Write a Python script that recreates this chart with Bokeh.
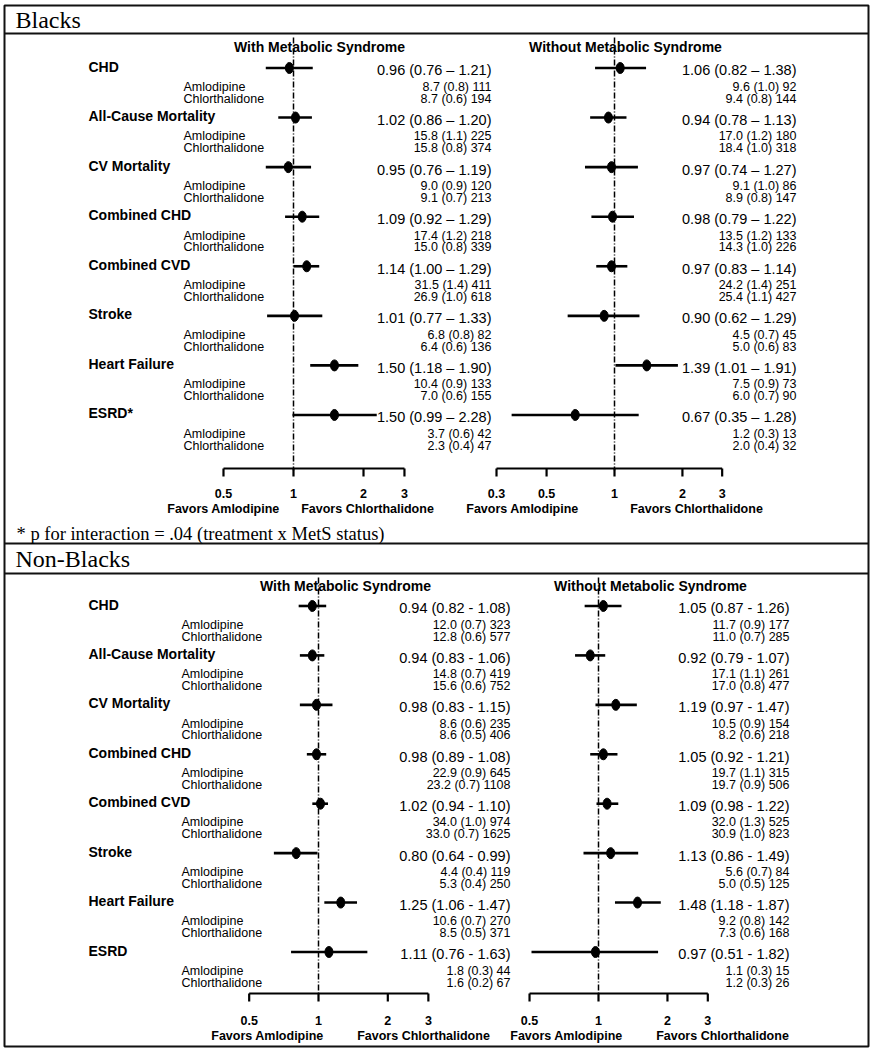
import math
from bokeh.plotting import figure
from bokeh.models import Range1d, LogScale, LinearScale, ColumnDataSource
from bokeh.core.properties import value
from bokeh.embed import file_html
from bokeh.resources import INLINE

# ---------------- data ----------------
outcomes_blacks = ["CHD", "All-Cause Mortality", "CV Mortality", "Combined CHD",
                   "Combined CVD", "Stroke", "Heart Failure", "ESRD*"]
outcomes_nonblacks = ["CHD", "All-Cause Mortality", "CV Mortality", "Combined CHD",
                      "Combined CVD", "Stroke", "Heart Failure", "ESRD"]
arms = ["Amlodipine", "Chlorthalidone"]

# Blacks, with metabolic syndrome
bw_hr = [0.96, 1.02, 0.95, 1.09, 1.14, 1.01, 1.50, 1.50]
bw_lo = [0.76, 0.86, 0.76, 0.92, 1.00, 0.77, 1.18, 0.99]
bw_hi = [1.21, 1.20, 1.19, 1.29, 1.29, 1.33, 1.90, 2.28]
bw_aml = ["8.7 (0.8) 111", "15.8 (1.1) 225", "9.0 (0.9) 120", "17.4 (1.2) 218",
          "31.5 (1.4) 411", "6.8 (0.8) 82", "10.4 (0.9) 133", "3.7 (0.6) 42"]
bw_chl = ["8.7 (0.6) 194", "15.8 (0.8) 374", "9.1 (0.7) 213", "15.0 (0.8) 339",
          "26.9 (1.0) 618", "6.4 (0.6) 136", "7.0 (0.6) 155", "2.3 (0.4) 47"]

# Blacks, without metabolic syndrome
bo_hr = [1.06, 0.94, 0.97, 0.98, 0.97, 0.90, 1.39, 0.67]
bo_lo = [0.82, 0.78, 0.74, 0.79, 0.83, 0.62, 1.01, 0.35]
bo_hi = [1.38, 1.13, 1.27, 1.22, 1.14, 1.29, 1.91, 1.28]
bo_aml = ["9.6 (1.0) 92", "17.0 (1.2) 180", "9.1 (1.0) 86", "13.5 (1.2) 133",
          "24.2 (1.4) 251", "4.5 (0.7) 45", "7.5 (0.9) 73", "1.2 (0.3) 13"]
bo_chl = ["9.4 (0.8) 144", "18.4 (1.0) 318", "8.9 (0.8) 147", "14.3 (1.0) 226",
          "25.4 (1.1) 427", "5.0 (0.6) 83", "6.0 (0.7) 90", "2.0 (0.4) 32"]

# Non-Blacks, with metabolic syndrome
nw_hr = [0.94, 0.94, 0.98, 0.98, 1.02, 0.80, 1.25, 1.11]
nw_lo = [0.82, 0.83, 0.83, 0.89, 0.94, 0.64, 1.06, 0.76]
nw_hi = [1.08, 1.06, 1.15, 1.08, 1.10, 0.99, 1.47, 1.63]
nw_aml = ["12.0 (0.7) 323", "14.8 (0.7) 419", "8.6 (0.6) 235", "22.9 (0.9) 645",
          "34.0 (1.0) 974", "4.4 (0.4) 119", "10.6 (0.7) 270", "1.8 (0.3) 44"]
nw_chl = ["12.8 (0.6) 577", "15.6 (0.6) 752", "8.6 (0.5) 406", "23.2 (0.7) 1108",
          "33.0 (0.7) 1625", "5.3 (0.4) 250", "8.5 (0.5) 371", "1.6 (0.2) 67"]

# Non-Blacks, without metabolic syndrome
no_hr = [1.05, 0.92, 1.19, 1.05, 1.09, 1.13, 1.48, 0.97]
no_lo = [0.87, 0.79, 0.97, 0.92, 0.98, 0.86, 1.18, 0.51]
no_hi = [1.26, 1.07, 1.47, 1.21, 1.22, 1.49, 1.87, 1.82]
no_aml = ["11.7 (0.9) 177", "17.1 (1.1) 261", "10.5 (0.9) 154", "19.7 (1.1) 315",
          "32.0 (1.3) 525", "5.6 (0.7) 84", "9.2 (0.8) 142", "1.1 (0.3) 15"]
no_chl = ["11.0 (0.7) 285", "17.0 (0.8) 477", "8.2 (0.6) 218", "19.7 (0.9) 506",
          "30.9 (1.0) 823", "5.0 (0.5) 125", "7.3 (0.6) 168", "1.2 (0.3) 26"]

ticks_bw = [0.5, 1, 2, 3]
ticks_bo = [0.3, 0.5, 1, 2, 3]
ticks_nw = [0.5, 1, 2, 3]
ticks_no = [0.5, 1, 2, 3]

# ---------------- layout ----------------
SANS = value("Liberation Sans")
SERIF = value("Liberation Serif")
X0, X1 = 0, 872
Y0, Y1 = 0, 1050

p = figure(width=X1 - X0, height=Y1 - Y0,
           x_range=Range1d(X0, X1), y_range=Range1d(Y1, Y0),
           output_backend="svg", toolbar_location=None, min_border=0,
           x_axis_location=None, y_axis_location=None,
           outline_line_color=None, background_fill_color="white",
           border_fill_color="white")
p.grid.visible = False

# log-scaled x ranges (one per forest panel): position of HR=1 and px per ln-unit
xpanels = {"bw": (293, 101.0), "bo": (614, 98.0), "nw": (318, 100.0), "no": (598, 99.5)}
p.extra_x_ranges = {n: Range1d(math.exp((X0 - c) / k), math.exp((X1 - c) / k))
                    for n, (c, k) in xpanels.items()}
p.extra_x_scales = {n: LogScale() for n in xpanels}
# row-index y ranges (one per population block): first row pixel, row pitch
ypanels = {"blk": (66, 49.57), "nb": (604, 49.43)}
p.extra_y_ranges = {n: Range1d((Y1 - y0) / s, (Y0 - y0) / s) for n, (y0, s) in ypanels.items()}
p.extra_y_scales = {n: LinearScale() for n in ypanels}


def forest(xr, yr, hr, lo, hi, aml, chl, est_right, dash_char, ticks,
           ref_top, axis_y, tick_lab_y, fav_y, fav_x, title, title_x, title_y):
    idx = list(range(len(hr)))
    src = ColumnDataSource(dict(
        hr=hr, lo=lo, hi=hi,
        yp=[i + 0.03 for i in idx], ye=[i + 0.08 for i in idx],
        ya=[i + 0.41 for i in idx], yc=[i + 0.65 for i in idx],
        est=[f"{h:.2f} ({l:.2f} {dash_char} {u:.2f})" for h, l, u in zip(hr, lo, hi)],
        aml=aml, chl=chl, xe=[est_right] * len(hr)))
    # reference line at HR = 1
    p.segment(x0=[1], y0=[ref_top], x1=[1], y1=[axis_y + 2], x_range_name=xr,
              line_color="black", line_width=1.5, line_dash="6 2 1 2")
    # CI lines and point estimates
    p.segment(x0="lo", y0="yp", x1="hi", y1="yp", source=src, x_range_name=xr,
              y_range_name=yr, line_color="black", line_width=2.6)
    p.ellipse(x="hr", y="yp", width=8, height=11, width_units="screen",
              height_units="screen", source=src, x_range_name=xr, y_range_name=yr,
              fill_color="black", line_color="black")
    # estimates text
    p.text(x="xe", y="ye", text="est", source=src, y_range_name=yr,
           text_font=SANS, text_font_size="14.5px", text_align="right",
           text_baseline="middle", text_color="black")
    p.text(x="xe", y="ya", text="aml", source=src, y_range_name=yr,
           text_font=SANS, text_font_size="12.5px", text_align="right",
           text_baseline="middle", text_color="black")
    p.text(x="xe", y="yc", text="chl", source=src, y_range_name=yr,
           text_font=SANS, text_font_size="12.5px", text_align="right",
           text_baseline="middle", text_color="black")
    # axis
    p.segment(x0=[min(ticks)], y0=[axis_y], x1=[max(ticks)], y1=[axis_y],
              x_range_name=xr, line_color="black", line_width=2.2)
    p.segment(x0=ticks, y0=[axis_y] * len(ticks), x1=ticks, y1=[axis_y + 8] * len(ticks),
              x_range_name=xr, line_color="black", line_width=2.2)
    p.text(x=ticks, y=[tick_lab_y] * len(ticks), text=[f"{t:g}" for t in ticks],
           x_range_name=xr, text_font=SANS, text_font_style="bold",
           text_font_size="12.5px", text_align="center", text_baseline="middle")
    p.text(x=fav_x, y=[fav_y, fav_y], text=["Favors Amlodipine", "Favors Chlorthalidone"],
           text_font=SANS, text_font_style="bold", text_font_size="12.5px",
           text_align="center", text_baseline="middle")
    p.text(x=[title_x], y=[title_y], text=[title], text_font=SANS,
           text_font_style="bold", text_font_size="14px", text_align="center",
           text_baseline="middle")


def row_labels(yr, outcomes, lab_x, arm_x):
    idx = list(range(len(outcomes)))
    p.text(x=[lab_x] * len(outcomes), y=idx, text=outcomes, y_range_name=yr,
           text_font=SANS, text_font_style="bold", text_font_size="14px",
           text_align="left", text_baseline="middle")
    p.text(x=[arm_x] * len(outcomes), y=[i + 0.41 for i in idx],
           text=[arms[0]] * len(outcomes), y_range_name=yr, text_font=SANS,
           text_font_size="12.5px", text_align="left", text_baseline="middle")
    p.text(x=[arm_x] * len(outcomes), y=[i + 0.65 for i in idx],
           text=[arms[1]] * len(outcomes), y_range_name=yr, text_font=SANS,
           text_font_size="12.5px", text_align="left", text_baseline="middle")


# frame / boxes
p.quad(left=[4], right=[868], top=[5], bottom=[1046], fill_color=None,
       line_color="#111111", line_width=2)
p.segment(x0=[4, 4, 4], y0=[33, 543, 573], x1=[868, 868, 868], y1=[33, 543, 573],
          line_color="#111111", line_width=2)
p.text(x=[15, 15], y=[19, 558], text=["Blacks", "Non-Blacks"], text_font=SERIF,
       text_font_size="24px", text_align="left", text_baseline="middle")
p.text(x=[16], y=[533], text=["* p for interaction = .04 (treatment x MetS status)"],
       text_font=SERIF, text_font_size="18.5px", text_align="left",
       text_baseline="middle")

# Blacks
row_labels("blk", outcomes_blacks, 88, 183)
forest("bw", "blk", bw_hr, bw_lo, bw_hi, bw_aml, bw_chl, 491, "\u2013", ticks_bw,
       37, 468, 493, 508, [223, 367], "With Metabolic Syndrome", 319, 46)
forest("bo", "blk", bo_hr, bo_lo, bo_hi, bo_aml, bo_chl, 796, "\u2013", ticks_bo,
       37, 468, 493, 508, [522, 696], "Without Metabolic Syndrome", 625, 46)

# Non-Blacks
row_labels("nb", outcomes_nonblacks, 88, 181)
forest("nw", "nb", nw_hr, nw_lo, nw_hi, nw_aml, nw_chl, 510, "-", ticks_nw,
       577, 993, 1020, 1035, [267, 423], "With Metabolic Syndrome", 345, 585)
forest("no", "nb", no_hr, no_lo, no_hi, no_aml, no_chl, 789, "-", ticks_no,
       577, 993, 1020, 1035, [566, 722], "Without Metabolic Syndrome", 650, 585)

open("out.html", "w").write(file_html(p, INLINE))
